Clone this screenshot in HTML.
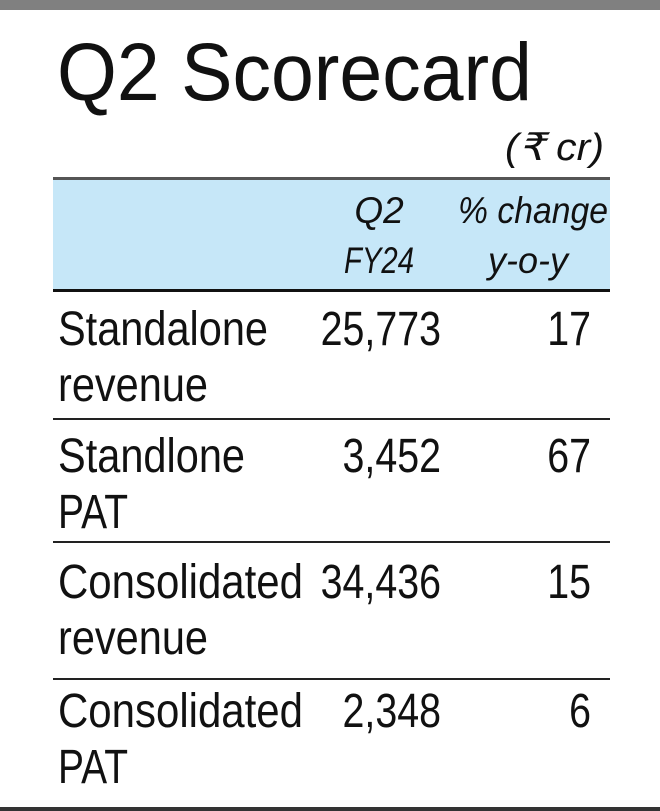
<!DOCTYPE html>
<html><head><meta charset="utf-8">
<style>
html,body{margin:0;padding:0;background:#fff;}
svg{display:block;}
text{font-family:"Liberation Sans Narrow","Liberation Sans",sans-serif;fill:#111;}
</style></head>
<body>
<svg id="card" width="660" height="811" viewBox="0 0 660 811">
  <rect x="0" y="0" width="660" height="10" fill="#808080"/>
  <text x="57" y="100" font-size="82" textLength="475" lengthAdjust="spacingAndGlyphs" style="font-family:'DejaVu Sans ExtraLight','Liberation Sans',sans-serif;font-weight:200">Q2 Scorecard</text>
  <text x="604" y="160" font-size="38" font-style="italic" text-anchor="end" textLength="99" lengthAdjust="spacingAndGlyphs">(₹ cr)</text>
  <rect x="53" y="180" width="557" height="110" fill="#c6e7f8"/>
  <rect x="53" y="177" width="557" height="3" fill="#555"/>
  <rect x="53" y="289" width="557" height="3" fill="#111"/>
  <text x="379" y="223" font-size="37" font-style="italic" text-anchor="middle">Q2</text>
  <text x="379" y="273" font-size="37" font-style="italic" text-anchor="middle" textLength="70" lengthAdjust="spacingAndGlyphs">FY24</text>
  <text x="533" y="223" font-size="37" font-style="italic" text-anchor="middle" textLength="150" lengthAdjust="spacingAndGlyphs">% change</text>
  <text x="528" y="273" font-size="37" font-style="italic" text-anchor="middle" textLength="80" lengthAdjust="spacingAndGlyphs">y-o-y</text>
  <g id="rows"></g>
  <rect x="0" y="807" width="660" height="4" fill="#333"/>
</svg>
<script>
const labelLine1 = ["Standalone","Standlone","Consolidated","Consolidated"];
const labelLine2 = ["revenue","PAT","revenue","PAT"];
const q2Values = ["25,773","3,452","34,436","2,348"];
const changeValues = ["17","67","15","6"];

const baseY1 = [345,472,598,727];
const NS = "http://www.w3.org/2000/svg";
const g = document.getElementById("rows");
const ruleY = [419,542,679];
function charW(s){let w=0;for(const c of s){w+=(c===","?0.278:0.556);}return w*48*0.82;}
const labelW = {"Standalone":210,"Standlone":187,"Consolidated":245,"revenue":150,"PAT":70};
function mk(x,y,txt,anchor,len){
  const t=document.createElementNS(NS,"text");
  t.setAttribute("x",x);t.setAttribute("y",y);t.setAttribute("font-size","48");
  if(anchor)t.setAttribute("text-anchor",anchor);
  if(len){t.setAttribute("textLength",len);t.setAttribute("lengthAdjust","spacingAndGlyphs");}
  t.textContent=txt;g.appendChild(t);return t;
}
for(let i=0;i<labelLine1.length;i++){
  const y=baseY1[i];
  const a=mk(58,y,labelLine1[i],null,labelW[labelLine1[i]]);
  
  
  const b=mk(58,y+56,labelLine2[i],null,labelW[labelLine2[i]]);
  
  
  const c=mk(441,y,q2Values[i],"end",charW(q2Values[i]));
  
  
  const d=mk(591,y,changeValues[i],"end",charW(changeValues[i]));
  
  
  if(i<ruleY.length){
    const r=document.createElementNS(NS,"rect");
    r.setAttribute("x",53);r.setAttribute("y",ruleY[i]-1);r.setAttribute("width",557);r.setAttribute("height",2);r.setAttribute("fill","#222");
    
    
    g.appendChild(r);
  }
}
</script>
</body></html>
